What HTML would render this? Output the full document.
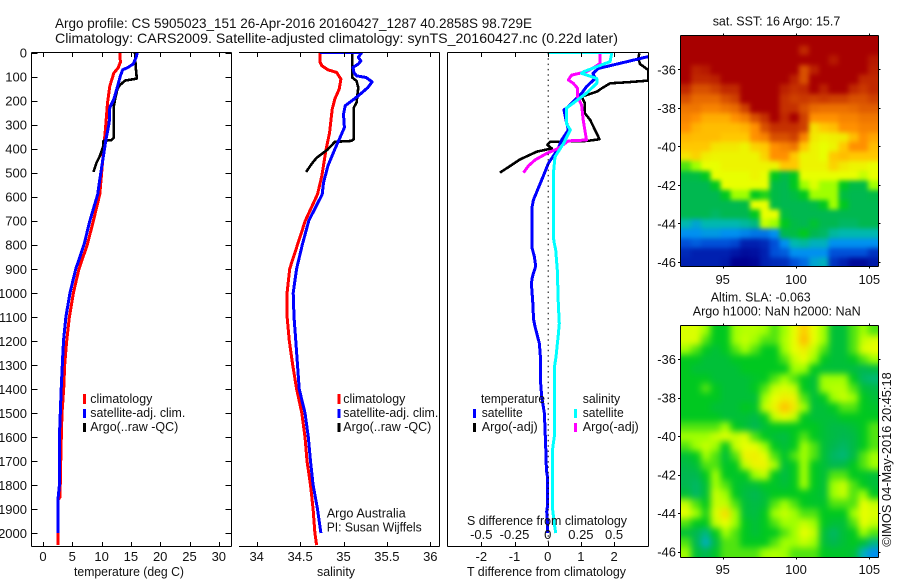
<!DOCTYPE html>
<html>
<head>
<meta charset="utf-8">
<title>Argo profile</title>
<style>
html,body{margin:0;padding:0;background:#fff;}
svg{display:block;}
text{font-family:"Liberation Sans",sans-serif;fill:#111;}
.t{font-size:13px;}
.h{font-size:14px;}
</style>
</head>
<body>
<svg id="chart" xmlns="http://www.w3.org/2000/svg" width="900" height="580" viewBox="0 0 900 580">
<defs>
<clipPath id="clip1"><rect x="32" y="52" width="199" height="494"/></clipPath>
<clipPath id="clip2"><rect x="239" y="52" width="200" height="494"/></clipPath>
<clipPath id="clip3"><rect x="448" y="52" width="200" height="494"/></clipPath>
<clipPath id="clipHeat1"><rect x="681" y="36" width="197" height="231"/></clipPath>
<clipPath id="clipHeat2"><rect x="681" y="326" width="197" height="231"/></clipPath>
<filter id="blurSst" filterUnits="userSpaceOnUse" x="650" y="0" width="250" height="300" color-interpolation-filters="sRGB"><feGaussianBlur stdDeviation="2.5"/></filter>
<filter id="blurSla" filterUnits="userSpaceOnUse" x="650" y="290" width="250" height="290" color-interpolation-filters="sRGB"><feGaussianBlur stdDeviation="3.5"/></filter>
</defs>
<rect x="0" y="0" width="900" height="580" fill="#fff"/>

<text class="h" x="55" y="28" textLength="477" lengthAdjust="spacingAndGlyphs">Argo profile: CS 5905023_151 26-Apr-2016 20160427_1287 40.2858S 98.729E</text>
<text class="h" x="55" y="43" textLength="563" lengthAdjust="spacingAndGlyphs">Climatology: CARS2009. Satellite-adjusted climatology: synTS_20160427.nc (0.22d later)</text>

<g clip-path="url(#clipHeat1)"><g id="heat1" filter="url(#blurSst)"></g></g>
<g clip-path="url(#clipHeat2)"><g id="heat2" filter="url(#blurSla)"></g></g>
<g id="marks"></g>
<g id="axes"></g>

<text class="t" x="74" y="576" textLength="110" lengthAdjust="spacingAndGlyphs">temperature (deg C)</text>
<text class="t" x="317" y="576" textLength="38" lengthAdjust="spacingAndGlyphs">salinity</text>
<text class="t" x="467" y="576" textLength="159" lengthAdjust="spacingAndGlyphs">T difference from climatology</text>
<text class="t" x="467" y="525" textLength="160" lengthAdjust="spacingAndGlyphs">S difference from climatology</text>

<g>
<rect x="83" y="394" width="3" height="10" fill="#f00"/>
<rect x="83" y="409" width="3" height="9" fill="#00f"/>
<rect x="83" y="423" width="3" height="9" fill="#000"/>
<text class="t" x="90.3" y="403" textLength="62" lengthAdjust="spacingAndGlyphs">climatology</text>
<text class="t" x="90.3" y="417" textLength="95" lengthAdjust="spacingAndGlyphs">satellite-adj. clim.</text>
<text class="t" x="90.3" y="431" textLength="88" lengthAdjust="spacingAndGlyphs">Argo(..raw -QC)</text>
</g>

<g>
<rect x="337.5" y="394" width="3" height="10" fill="#f00"/>
<rect x="337.5" y="409" width="3" height="9" fill="#00f"/>
<rect x="337.5" y="423" width="3" height="9" fill="#000"/>
<text class="t" x="343.3" y="403" textLength="62" lengthAdjust="spacingAndGlyphs">climatology</text>
<text class="t" x="343.3" y="417" textLength="95" lengthAdjust="spacingAndGlyphs">satellite-adj. clim.</text>
<text class="t" x="343.3" y="431" textLength="88" lengthAdjust="spacingAndGlyphs">Argo(..raw -QC)</text>
<text class="t" x="326.7" y="517.5" textLength="79" lengthAdjust="spacingAndGlyphs">Argo Australia</text>
<text class="t" x="326.7" y="531.5" textLength="95" lengthAdjust="spacingAndGlyphs">PI: Susan Wijffels</text>
</g>

<g>
<text class="t" x="481" y="403" textLength="64" lengthAdjust="spacingAndGlyphs">temperature</text>
<rect x="473" y="409" width="3" height="9" fill="#00f"/>
<rect x="473" y="423" width="3" height="9" fill="#000"/>
<text class="t" x="481.7" y="417" textLength="41" lengthAdjust="spacingAndGlyphs">satellite</text>
<text class="t" x="481.7" y="431" textLength="56" lengthAdjust="spacingAndGlyphs">Argo(-adj)</text>
<text class="t" x="582.7" y="403" textLength="37.5" lengthAdjust="spacingAndGlyphs">salinity</text>
<rect x="574" y="409" width="3" height="9" fill="#0ff"/>
<rect x="574" y="423" width="3" height="9" fill="#f0f"/>
<text class="t" x="582.7" y="417" textLength="41" lengthAdjust="spacingAndGlyphs">satellite</text>
<text class="t" x="582.7" y="431" textLength="56" lengthAdjust="spacingAndGlyphs">Argo(-adj)</text>
</g>

<text class="t" x="712.7" y="25.7" textLength="127.6" lengthAdjust="spacingAndGlyphs">sat. SST: 16 Argo: 15.7</text>
<text class="t" x="710.7" y="301.7" textLength="100" lengthAdjust="spacingAndGlyphs">Altim. SLA: -0.063</text>
<text class="t" x="692.7" y="315.7" textLength="168" lengthAdjust="spacingAndGlyphs">Argo h1000: NaN h2000: NaN</text>
<text class="t" transform="translate(891 546.7) rotate(-90)" x="0" y="0" textLength="174.4" lengthAdjust="spacingAndGlyphs">©IMOS 04-May-2016 20:45:18</text>
</svg>

<script>
// ---- tick values and labels ----
var depthTicks = [0,100,200,300,400,500,600,700,800,900,1000,1100,1200,1300,1400,1500,1600,1700,1800,1900,2000];
var tempTicks = [0,5,10,15,20,25,30];
var salTicks = [34,34.5,35,35.5,36];
var tDiffTicks = [-2,-1,0,1,2];
var sDiffTicks = [-0.5,-0.25,0,0.25,0.5];
var sDiffLabels = ['-0.5','-0.25','0','0.25','0.5'];
var latTicks = [-36,-38,-40,-42,-44,-46];
var lonTicks = [95,100,105];

// ---- temperature panel ----
var tempClimDepth = [0,40,65,85,140,210,305,415,590,700,800,900,1000,1100,1200,1300,1400,1500,1650,1850,1860,2000,2050];
var tempClimValue = [13.1,13.2,12.8,12.1,11.4,11.0,10.7,10.3,9.7,8.6,7.56,6.15,5.18,4.5,4.04,3.7,3.53,3.24,3.07,2.9,2.6,2.6,2.6];
var tempSatDepth = [0,20,48,62,72,97,152,194,229,292,361,431,528,590,700,800,900,1000,1100,1200,1300,1400,1500,1600,1800,1850,2000];
var tempSatValue = [16.1,15.9,15.4,14.5,13.6,13.2,12.6,12.1,11.4,11.3,10.75,10.3,9.7,9.33,8.0,7.0,5.6,4.6,3.9,3.5,3.3,3.1,2.95,2.8,2.8,2.6,2.6];
var tempArgoDepth = [0,55,108,110,117,136,152,194,222,354,364,368,389,431,458,497];
var tempArgoValue = [15.7,15.8,16.0,15.7,14.0,13.1,12.7,12.3,12.1,12.1,11.7,10.3,10.3,9.7,9.15,8.6];

// ---- salinity panel ----
var salClimDepth = [0,40,55,72,83,111,152,194,236,333,403,514,590,700,800,900,1000,1100,1200,1300,1400,1500,1600,1700,1800,1900,2000,2050];
var salClimValue = [34.73,34.73,34.75,34.82,34.92,34.97,34.95,34.9,34.87,34.84,34.80,34.75,34.70,34.56,34.47,34.38,34.35,34.35,34.375,34.415,34.46,34.52,34.556,34.58,34.62,34.65,34.67,34.69];
var salSatDepth = [0,0,20,35,48,62,83,97,104,122,146,180,222,257,312,354,403,472,542,590,700,800,900,1000,1100,1200,1300,1400,1500,1600,1700,1800,1900,2000];
var salSatValue = [34.73,35.21,35.17,35.2,35.17,35.11,35.12,35.15,35.26,35.33,35.28,35.17,35.02,35.0,35.01,34.96,34.9,34.82,34.77,34.755,34.60,34.525,34.46,34.42,34.43,34.45,34.47,34.49,34.556,34.595,34.62,34.65,34.70,34.74];
var salArgoDepth = [0,104,118,146,208,229,361,368,372,403,438,465,497];
var salArgoValue = [35.10,35.10,35.15,35.17,35.15,35.12,35.12,35.09,34.9,34.82,34.69,34.63,34.57];

// ---- difference panel (T in deg C, S in psu) ----
var dTSatDepth = [17,45,66,87,108,142,170,225,239,281,322,364,399,461,530,614,649,809,850,889,933,961,1059,1107,1142,1184,1211,1267,1363,1432,1502,1640,1737,1765,1890,1911,1960,2000];
var dTSatValue = [3.03,2.18,1.53,1.36,1.43,1.17,1.02,0.62,0.49,0.55,0.62,0.42,0.32,0.02,-0.18,-0.43,-0.48,-0.48,-0.40,-0.36,-0.46,-0.49,-0.44,-0.43,-0.38,-0.30,-0.25,-0.22,-0.22,-0.18,-0.10,-0.06,-0.04,-0.01,-0.01,-0.03,0,0];
var dTArgoDepth = [3,24,48,73,117,124,128,149,163,184,212,253,281,361,368,372,385,399,413,445,500];
var dTArgoValue = [2.76,2.73,2.78,3.03,3.03,2.38,1.88,1.63,1.48,1.02,1.12,1.12,1.28,1.56,1.2,0.07,-0.01,0.12,-0.33,-0.83,-1.44];
var dSSatDepth = [0,0,38,59,80,87,108,128,170,212,232,295,322,378,434,503,641,766,794,822,905,1044,1128,1184,1225,1267,1302,1599,1627,1661,1890,1960,2000];
var dSSatValue = [0,0.4825,0.47,0.37,0.27,0.255,0.37,0.37,0.29,0.19,0.14,0.14,0.17,0.12,0.055,0.043,0.042,0.042,0.05,0.06,0.072,0.08,0.087,0.078,0.07,0.0625,0.053,0.05,0.042,0.035,0.035,0.05,0.06];
var dSArgoDepth = [3,45,59,80,94,114,128,149,184,218,281,364,368,399,420,447,472,500];
var dSArgoValue = [0.395,0.395,0.3575,0.2925,0.18,0.155,0.1925,0.225,0.225,0.255,0.2675,0.2925,0.155,0.08,-0.0075,-0.095,-0.145,-0.1825];

// ---- map panels: one row per 0.5 deg latitude, colour-level values ----
var sstLevels = [
[12,12,12,12,12,12,12,12,12,12,12,12,12,12,12,12,12,12,12,12],
[12,12,12,12,12,12,12,12,12,12,12,12,11.5,12,12,12,12,12,12,12],
[12,12,12,12,12,12,12,12,12,12,12,12,12,12,12,11.7,12,12,12,11.7],
[12,11.6,11.7,12,12,12,12,12,12,12,12,12,11,11.6,12,12,12,12,12,11.6],
[12,11.5,11.5,11.6,12,12,12,12,12,12,12,11.6,11,12,12,12,12,12,11.5,11.5],
[11.5,11,11,11.2,11.5,11.5,12,12,12,12,11.6,11.4,11.5,12,11.6,12,12,11.5,11.3,11.5],
[11,10.6,10.6,10.6,11,11.2,12,12,12,12,11.4,11.2,11.3,11.2,11.3,11.2,11.2,11,11,11.2],
[10.4,10.4,10.2,10.2,10.4,10.6,11.2,12,12,12,11.4,11.4,11,10.6,10.5,10.5,10.5,10.6,10.8,10.8],
[10.2,10,9.5,9.5,9.5,10,10.3,11,11.4,12,11.5,12,11.2,10,10,10,10.2,10.2,10.4,10.4],
[10,9.4,9.2,9.2,9.2,9.2,9.4,10,11,11.4,11.4,11.4,11.2,8.6,9,9.2,10,10,10.2,10.2],
[9.3,9.2,9.2,9.2,9,9,9,10,10.2,11,11,11.2,10.2,8.4,8.2,8.3,8.4,9.2,10,9.6],
[9,9,9,8.5,8.4,8.4,8.2,8.8,9,10,10.2,10.4,9,8.2,8,8.2,9,10,10,9.2],
[8.5,8.8,8.3,8.2,8.2,8.2,8.2,8.2,8.8,10,10,9,8.2,8.2,8,9,9.2,9,9,9],
[6.5,7,8,8,8.2,8.2,8.2,8.2,8.2,8.2,9,9,8.2,8.2,8.2,8.8,8.4,8.2,8.2,8],
[5.2,5.3,6,8,8,8,8,8.2,8,6,5.2,6,8,8,8,8,8,8,7.5,8],
[5,5,5,6,8,8,8,8,8,5.2,5,6,7,7.8,7,7,6,5.2,5.2,7],
[5,5,5,5,6,7,7,6,6.2,5.2,5,5.3,6,7,7,7,5.3,5,5,5.2],
[5,5,5,5,5,5,5.2,8,8,5.2,5,5,5,5.2,6,7,6,5,5,5],
[5,5,5,4.8,5,5,5,6,8,8,5.3,5,5,5,5,5,5,5,5,5],
[4,3.5,4,4,4,4,4.2,4.5,7.5,7,6,5.2,5,5.6,5,5,4.8,4.8,5,5],
[3,3,3.2,3.2,3,3,2.8,2.6,2.6,3,5,5.3,6,5,4.8,4.2,4,4,4,4],
[2,2.2,2,2,2,1.8,1,1,1.2,2,3,4,4.2,3.8,3.8,3,3,3,3,3],
[1.2,1,1,1,1,0.7,0.4,0.5,1,2,2.2,3,3,3,3,2,2,2,2,1.4],
[1,1,1,1,0.8,0,0,0.2,1,1.2,1.3,2,2.4,3.5,3.8,1.4,1,0.3,0.3,0.8]
];
var slaLevels = [
[7.8,7.8,7,6,6,7,7.3,7.3,7,6.5,7,8,8.9,8,7,5.5,5.5,6.5,7,6.5],
[7.8,7.8,6.5,6,6,7,7.5,7,6.5,6.5,7.2,8,9.2,8,7,5.5,5.5,6.5,7.5,7.8],
[7,6.5,6,5.5,6,6.5,7,6.5,6,6,7,8,8.3,7.5,6.5,5.5,5.5,6.5,7.8,8],
[6,6,5.5,5.5,5.5,6,6,6,6,6,6.5,7.5,8,7,6,5.5,5.5,6,6.5,7],
[6,5.5,5.5,5.5,5.5,5.5,6,6,6,6,6,7,7,6,5.5,5.5,5.5,5.3,5,5.3],
[6,6,6,5.5,5.5,5.5,5.5,5.8,6,6.5,7,6.5,6,5.5,7,7,7,6,4.8,4.6],
[6,6,6.5,6,5.5,5.5,5.5,6,6.5,7.5,7.8,7.5,6,5.5,7,7.3,7.3,6.5,5.5,5.2],
[6,6,6,6,5.5,5.5,5.5,5.5,7,8,8.3,8.2,6.5,5.5,6,7,7.5,7,6,5.5],
[6,6,6,5.5,5.5,5.5,6,5.8,7.5,8.2,9.1,8.4,7,5.5,5.5,6,6.5,6.5,6,5.8],
[6,6,6,6,5.5,5.5,5.5,5.2,6,7.5,8,7.5,6,5.5,5.5,5.5,6,6,6,6],
[6.5,6.5,6.5,6.5,7,6,5.5,5,5.5,6,6,6,6,6,5.5,5.2,5.2,5.5,6,6.5],
[7,7,7,7.5,7.8,7.5,7.8,6.5,6,5.5,5.3,6,6.5,6,5.5,5.2,5,5.2,6,6.5],
[6.5,7,7.5,7,6,7.5,8,8,7,6,5.5,6,7,6.5,5.5,5,4.8,5.2,6,6.5],
[5.5,6,7,6.5,5.5,6.5,8.2,8.3,8,6.5,5.8,6.5,7,6.5,5.5,4.8,4.6,5.2,6.5,7],
[5.2,5.5,6.5,6.5,5.8,6,7.5,8.2,8.2,7.2,5.5,6,7,6,5.5,5,5.2,6,6.5,7],
[5,5,6,7,6,5.8,6,7,7.5,6,5.3,6,7,6,5.5,6.5,6.5,6,5.8,5.5],
[5,4.8,5.5,7,6.5,5.8,5.5,5.5,6,5.8,5.5,6,7,6,5.5,7,7.5,6.5,6,5.5],
[5.5,4.8,5.5,7.5,7,6,5.3,5,5.5,6,6,6,6,5.8,5.5,7,7.5,6.5,7,6],
[7.5,6.5,6,7.5,7.5,6.5,5.5,5.2,5.5,6.5,7,6.5,6,5.8,5.8,6.5,6.5,6.5,8,7.5],
[8,7,6.2,7.8,8.6,7,5.5,5.3,6,7,7.5,7,6.5,6.5,6,6,6,7,8,7.8],
[6.5,6,6,7.5,8,7,6,5.5,6,6.5,7,7,7.5,7,6,5.5,5.5,6.5,8,7.5],
[5.5,5,4.5,6,7,6.5,6,5.5,6,6,6.5,7,8,7.5,5.5,4.8,5.5,6,7,6.5],
[6.5,5,3.8,5.2,6.5,6.5,6,6,6,6.5,7,7,7.5,7,5.5,5,5.5,6,5.5,4.5],
[7,5.5,5,5.8,6.5,6.5,6.5,6.5,7,7.2,7,6.5,6.5,6.5,6,5.8,5.8,5.5,3.8,3]
];

// ---- axis functions ----
var NS = 'http://www.w3.org/2000/svg';
function yDepth(d){ return 52.5 + d * 0.2403; }
function xTemp(v){ return 43 + v * 5.86; }
function xSal(v){ return 256.7 + (v - 34) * 86.8; }
function xDT(v){ return 547.7 + v * 33.2; }
function xDS(v){ return 547.7 + v * 132.8; }
function xLon(v){ return 722.7 + (v - 95) * 14.66; }
function yLat1(v){ return 69.3 + (-36 - v) * 19.27; }
function yLat2(v){ return 359 + (-36 - v) * 19.27; }

var mapColours = [[0,0,143],[0,32,176],[0,80,216],[0,144,240],[0,184,176],[0,184,80],[0,200,32],[160,255,0],[232,255,0],[255,200,0],[255,144,0],[216,80,0],[168,0,0]];
function colourOf(level){
  var i = Math.max(0, Math.min(mapColours.length - 2, Math.floor(level)));
  var f = Math.max(0, Math.min(1, level - i));
  var a = mapColours[i], b = mapColours[i + 1];
  return 'rgb(' + Math.round(a[0] + (b[0] - a[0]) * f) + ',' + Math.round(a[1] + (b[1] - a[1]) * f) + ',' + Math.round(a[2] + (b[2] - a[2]) * f) + ')';
}

var axesG = document.getElementById('axes');
var marksG = document.getElementById('marks');

function drawLine(parent, x1, y1, x2, y2, name){
  var l = document.createElementNS(NS, 'line');
  l.setAttribute('x1', x1);
  l.setAttribute('y1', y1);
  l.setAttribute('x2', x2);
  l.setAttribute('y2', y2);
  l.setAttribute('stroke', '#000');
  l.setAttribute('stroke-width', '1');
  l.setAttribute('shape-rendering', 'crispEdges');
  
  
  parent.appendChild(l);
}
function drawLabel(x, y, str, anchor, name){
  var t = document.createElementNS(NS, 'text');
  t.setAttribute('x', x);
  t.setAttribute('y', y);
  t.setAttribute('text-anchor', anchor);
  t.setAttribute('class', 't');
  
  
  t.textContent = str;
  axesG.appendChild(t);
}
function drawSeries(depths, values, xFn, colour, width, clip, name){
  var pts = [];
  for (var i = 0; i < depths.length; i++) {
    pts.push(xFn(values[i]).toFixed(1) + ',' + yDepth(depths[i]).toFixed(1));
  }
  var p = document.createElementNS(NS, 'polyline');
  p.setAttribute('points', pts.join(' '));
  p.setAttribute('fill', 'none');
  p.setAttribute('stroke', colour);
  p.setAttribute('stroke-width', width);
  p.setAttribute('stroke-linejoin', 'round');
  p.setAttribute('clip-path', 'url(#' + clip + ')');
  p.setAttribute('shape-rendering', 'crispEdges');
  
  
  marksG.appendChild(p);
}
function drawHeat(rows, groupId, yFn, name){
  var g = document.getElementById(groupId);
  var lonStart = 92.16, lonStep = 13.43 / rows[0].length;
  var latStart = -34.27, latStep = 0.5;
  var bleed = 14;
  for (var r = 0; r < rows.length; r++) {
    for (var c = 0; c < rows[r].length; c++) {
      var x0 = xLon(lonStart + c * lonStep), x1 = xLon(lonStart + (c + 1) * lonStep);
      var y0 = yFn(latStart - r * latStep), y1 = yFn(latStart - (r + 1) * latStep);
      if (c === 0) { x0 -= bleed; }
      if (c === rows[r].length - 1) { x1 += bleed; }
      if (r === 0) { y0 -= bleed; }
      if (r === rows.length - 1) { y1 += bleed; }
      var cell = document.createElementNS(NS, 'rect');
      cell.setAttribute('x', x0.toFixed(2));
      cell.setAttribute('y', y0.toFixed(2));
      cell.setAttribute('width', (x1 - x0 + 0.5).toFixed(2));
      cell.setAttribute('height', (y1 - y0 + 0.5).toFixed(2));
      cell.setAttribute('fill', colourOf(rows[r][c]));
      cell.setAttribute('shape-rendering', 'crispEdges');
      
      
      g.appendChild(cell);
    }
  }
}

// ---- map cells ----
drawHeat(sstLevels, 'heat1', yLat1, 'sst-cell');
drawHeat(slaLevels, 'heat2', yLat2, 'sla-cell');

// ---- profile marks ----
drawSeries(tempClimDepth, tempClimValue, xTemp, '#f00', 3, 'clip1', 'temperature-climatology-line');
drawSeries(tempArgoDepth, tempArgoValue, xTemp, '#000', 2.6, 'clip1', 'temperature-argo-line');
drawSeries(tempSatDepth, tempSatValue, xTemp, '#00f', 3, 'clip1', 'temperature-satellite-line');
drawSeries(salClimDepth, salClimValue, xSal, '#f00', 3, 'clip2', 'salinity-climatology-line');
drawSeries(salArgoDepth, salArgoValue, xSal, '#000', 2.6, 'clip2', 'salinity-argo-line');
drawSeries(salSatDepth, salSatValue, xSal, '#00f', 3, 'clip2', 'salinity-satellite-line');
drawSeries(dTArgoDepth, dTArgoValue, xDT, '#000', 2.6, 'clip3', 't-difference-argo-line');
drawSeries(dTSatDepth, dTSatValue, xDT, '#00f', 3, 'clip3', 't-difference-satellite-line');
drawSeries(dSArgoDepth, dSArgoValue, xDS, '#f0f', 3, 'clip3', 's-difference-argo-line');
drawSeries(dSSatDepth, dSSatValue, xDS, '#0ff', 3, 'clip3', 's-difference-satellite-line');

// ---- zero reference in the difference panel ----
var zero = document.createElementNS(NS, 'line');
zero.setAttribute('x1', xDT(0) + 0.5);
zero.setAttribute('x2', xDT(0) + 0.5);
zero.setAttribute('y1', 53);
zero.setAttribute('y2', 545);
zero.setAttribute('stroke', '#000');
zero.setAttribute('stroke-width', '1');
zero.setAttribute('stroke-dasharray', '1.5 3.8');


axesG.appendChild(zero);

// ---- profile panel frames ----
drawLine(axesG, 31.5, 52.5, 231.5, 52.5, 'temperature-top-axis');
drawLine(axesG, 31.5, 546.5, 231.5, 546.5, 'temperature-bottom-axis');
drawLine(axesG, 31.5, 52.5, 31.5, 546.5, 'depth-axis');
drawLine(axesG, 231.5, 52.5, 231.5, 546.5, 'temperature-right-axis');
drawLine(axesG, 239, 52.5, 439.5, 52.5, 'salinity-top-axis');
drawLine(axesG, 239, 546.5, 439.5, 546.5, 'salinity-bottom-axis');
drawLine(axesG, 439.5, 52.5, 439.5, 546.5, 'salinity-right-axis');
drawLine(axesG, 447.5, 52.5, 648.5, 52.5, 'difference-top-axis');
drawLine(axesG, 447.5, 546.5, 648.5, 546.5, 'difference-bottom-axis');
drawLine(axesG, 447.5, 52.5, 447.5, 546.5, 'difference-left-axis');
drawLine(axesG, 648.5, 52.5, 648.5, 546.5, 'difference-right-axis');

// ---- depth ticks ----
depthTicks.forEach(function(d){
  var y = Math.round(yDepth(d)) + 0.5;
  drawLine(axesG, 31.5, y, 37.5, y, 'depth-tick');
  drawLine(axesG, 225.5, y, 231.5, y, 'depth-tick-right');
  drawLabel(27, yDepth(d) + 5, String(d), 'end', 'depth-tick-label');
});

// ---- x ticks ----
tempTicks.forEach(function(v){
  var x = Math.round(xTemp(v)) + 0.5;
  drawLine(axesG, x, 52.5, x, 57, 'temperature-top-tick');
  drawLine(axesG, x, 542, x, 546.5, 'temperature-tick');
  drawLabel(xTemp(v), 561, String(v), 'middle', 'temperature-tick-label');
});
salTicks.forEach(function(v){
  var x = Math.round(xSal(v)) + 0.5;
  drawLine(axesG, x, 52.5, x, 57, 'salinity-top-tick');
  drawLine(axesG, x, 542, x, 546.5, 'salinity-tick');
  drawLabel(xSal(v), 561, String(v), 'middle', 'salinity-tick-label');
});
tDiffTicks.forEach(function(v){
  var x = Math.round(xDT(v)) + 0.5;
  drawLine(axesG, x, 542, x, 546.5, 't-difference-tick');
  drawLabel(xDT(v), 561, String(v), 'middle', 't-difference-tick-label');
});
sDiffTicks.forEach(function(v, i){
  var x = Math.round(xDS(v)) + 0.5;
  drawLine(axesG, x, 52.5, x, 57, 's-difference-tick');
  drawLabel(xDS(v), 539, sDiffLabels[i], 'middle', 's-difference-tick-label');
});

// ---- map frames and ticks ----
function drawMapFrame(top, bottom, yFn, labelBase, prefix){
  drawLine(axesG, 680.5, top, 878.5, top, prefix + '-top-axis');
  drawLine(axesG, 680.5, bottom, 878.5, bottom, prefix + '-bottom-axis');
  drawLine(axesG, 680.5, top, 680.5, bottom, prefix + '-left-axis');
  drawLine(axesG, 878.5, top, 878.5, bottom, prefix + '-right-axis');
  latTicks.forEach(function(v){
    var y = Math.round(yFn(v)) + 0.5;
    drawLine(axesG, 678, y, 680.5, y, prefix + '-lat-tick');
    drawLine(axesG, 878.5, y, 880.5, y, prefix + '-lat-tick-right');
    drawLabel(676, yFn(v) + 5, String(v), 'end', prefix + '-lat-label');
  });
  lonTicks.forEach(function(v){
    var x = Math.round(xLon(v)) + 0.5;
    drawLine(axesG, x, top - 2, x, top, prefix + '-lon-top-tick');
    drawLine(axesG, x, bottom, x, bottom + 2, prefix + '-lon-tick');
    drawLabel(xLon(v), labelBase, String(v), 'middle', prefix + '-lon-label');
  });
}
drawMapFrame(35.5, 266.5, yLat1, 284, 'sst-map');
drawMapFrame(325.5, 557.5, yLat2, 574, 'sla-map');
</script>
</body>
</html>
